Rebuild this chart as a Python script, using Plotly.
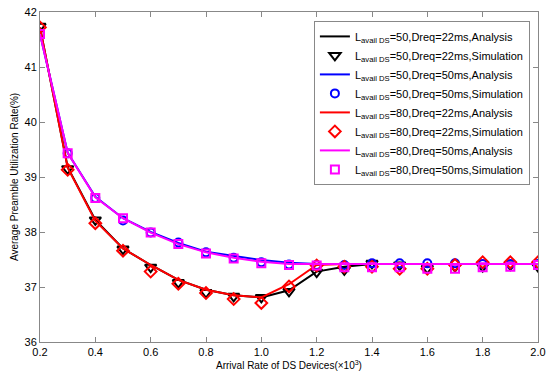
import plotly.graph_objects as go

x = [0.2, 0.3, 0.4, 0.5, 0.6, 0.7, 0.8, 0.9, 1.0, 1.1, 1.2, 1.3, 1.4, 1.5, 1.6, 1.7, 1.8, 1.9, 2.0]

ana_50_22 = [41.72, 39.18, 38.22, 37.70, 37.40, 37.13, 36.95, 36.85, 36.81, 36.94, 37.28, 37.37, 37.42, 37.42, 37.42, 37.42, 37.42, 37.42, 37.42]
sim_50_22 = [41.74, 39.15, 38.22, 37.69, 37.36, 37.08, 36.90, 36.83, 36.81, 36.92, 37.27, 37.31, 37.43, 37.40, 37.34, 37.37, 37.37, 37.40, 37.37]
ana_50_50 = [41.60, 39.44, 38.64, 38.25, 38.00, 37.80, 37.64, 37.56, 37.49, 37.44, 37.42, 37.42, 37.42, 37.42, 37.42, 37.42, 37.42, 37.42, 37.42]
sim_50_50 = [41.60, 39.43, 38.62, 38.21, 37.99, 37.81, 37.63, 37.53, 37.45, 37.41, 37.40, 37.40, 37.43, 37.43, 37.43, 37.43, 37.42, 37.42, 37.42]
ana_80_22 = [41.72, 39.17, 38.20, 37.70, 37.40, 37.13, 36.95, 36.85, 36.81, 37.05, 37.40, 37.42, 37.42, 37.42, 37.42, 37.42, 37.42, 37.42, 37.42]
sim_80_22 = [41.72, 39.13, 38.16, 37.66, 37.28, 37.06, 36.89, 36.78, 36.71, 37.01, 37.39, 37.37, 37.37, 37.33, 37.33, 37.40, 37.45, 37.45, 37.45]
ana_80_50 = [41.60, 39.44, 38.63, 38.25, 37.99, 37.78, 37.63, 37.53, 37.46, 37.42, 37.42, 37.42, 37.42, 37.42, 37.42, 37.42, 37.42, 37.42, 37.42]
sim_80_50 = [41.60, 39.43, 38.62, 38.25, 37.99, 37.78, 37.61, 37.52, 37.43, 37.40, 37.39, 37.36, 37.36, 37.36, 37.33, 37.33, 37.36, 37.37, 37.40]

names = [
    "L<sub>avail DS</sub>=50,Dreq=22ms,Analysis",
    "L<sub>avail DS</sub>=50,Dreq=22ms,Simulation",
    "L<sub>avail DS</sub>=50,Dreq=50ms,Analysis",
    "L<sub>avail DS</sub>=50,Dreq=50ms,Simulation",
    "L<sub>avail DS</sub>=80,Dreq=22ms,Analysis",
    "L<sub>avail DS</sub>=80,Dreq=22ms,Simulation",
    "L<sub>avail DS</sub>=80,Dreq=50ms,Analysis",
    "L<sub>avail DS</sub>=80,Dreq=50ms,Simulation",
]

fig = go.Figure()
series = [
    (ana_50_22, "lines", "#000000", None, 0),
    (sim_50_22, "markers", "#000000", "triangle-down-open", 10),
    (ana_50_50, "lines", "#0000ff", None, 0),
    (sim_50_50, "markers", "#0000ff", "circle-open", 8),
    (ana_80_22, "lines", "#ff0000", None, 0),
    (sim_80_22, "markers", "#ff0000", "diamond-open", 9),
    (ana_80_50, "lines", "#ff00ff", None, 0),
    (sim_80_50, "markers", "#ff00ff", "square-open", 8),
]
for (vals, mode, col, sym, sz), nm in zip(series, names):
    if mode == "lines":
        fig.add_trace(go.Scatter(x=x, y=vals, mode="lines", name=nm,
                                 line=dict(color=col, width=2)))
    else:
        fig.add_trace(go.Scatter(x=x, y=vals, mode="markers", name=nm,
                                 marker=dict(color=col, symbol=sym, size=sz,
                                             line=dict(color=col, width=2))))

axis_common = dict(showgrid=False, zeroline=False, showline=True, linecolor="#888888",
                   linewidth=1, mirror="ticks", ticks="inside", ticklen=5,
                   tickcolor="#888888", tickfont=dict(size=11, color="#000000"),
                   automargin=False, ticklabeloverflow="allow")

fig.update_layout(
    width=550, height=380,
    margin=dict(l=40, r=12, t=12, b=38),
    paper_bgcolor="white", plot_bgcolor="white",
    font=dict(family="Liberation Sans, Arial, sans-serif", color="#000000", size=11),
    xaxis=dict(range=[0.2, 2.0], tickvals=[0.2, 0.4, 0.6, 0.8, 1.0, 1.2, 1.4, 1.6, 1.8, 2.0],
               tickformat=".1f",
               title=dict(text="Arrival Rate of DS Devices(×10<sup>3</sup>)", font=dict(size=10), standoff=4),
               **axis_common),
    yaxis=dict(range=[36, 42], tickvals=[36, 37, 38, 39, 40, 41, 42],
               title=dict(text="Average Preamble Utilization Rate(%)", font=dict(size=10), standoff=4),
               **axis_common),
    legend=dict(x=0.55, y=0.973, xanchor="left", yanchor="top",
                bgcolor="white", bordercolor="#888888", borderwidth=1,
                font=dict(size=11), itemwidth=30, tracegroupgap=0),
    showlegend=True,
)

fig.write_html("out.html", config={"displayModeBar": False},
               post_script="document.body.style.margin='0';document.body.style.overflow='hidden';")
